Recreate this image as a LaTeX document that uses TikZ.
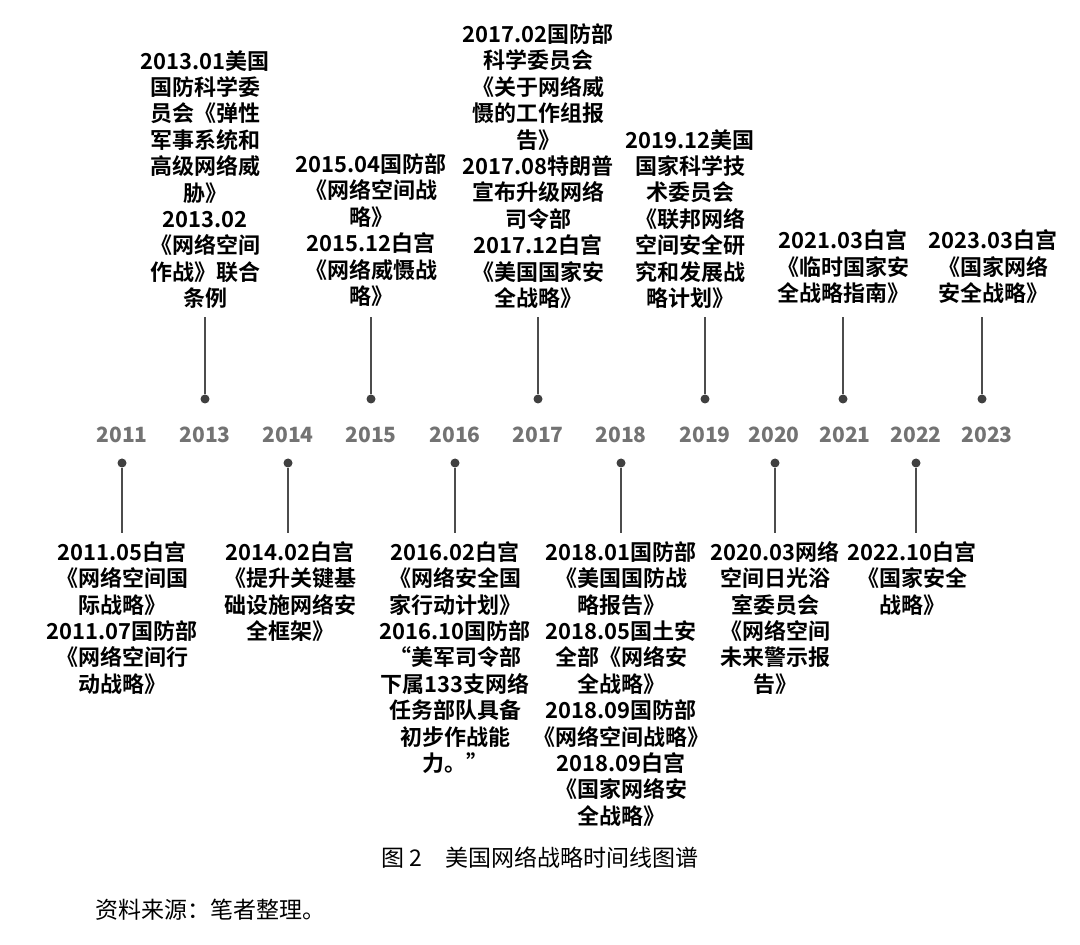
\documentclass[tikz,border=0pt]{standalone}
\usepackage{fontspec}
\setmainfont{Noto Sans CJK SC}
\newfontfamily\cjkb{Noto Sans CJK SC Bold}
\usepackage{tikz}
\usetikzlibrary{positioning}
\begin{document}
\begin{tikzpicture}[x=0.5pt,y=-0.5pt,
            ev/.style={align=center, inner sep=0pt, font=\cjkb\fontsize{11}{13.2}\selectfont},
            yr/.style={text=black!55, inner sep=0pt, font=\bfseries\fontsize{10.5}{12}\selectfont},
            dot/.style={shape=circle, inner sep=0pt, minimum size=4.5pt, fill=black!75},
            stem/.style={draw=black!70, line width=0.6pt}]
        \useasboundingbox (0,0) rectangle (1080,945);

        % years
        \foreach \x/\y in {122/2011,205/2013,288/2014,371/2015,455/2016,538/2017,621/2018,705/2019,774/2020,845/2021,916/2022,987/2023}
            \node[yr] (y\y) at (\x,435) {\y};

        % upper events
        \node[ev,anchor=south] (e13) at (205,309) {2013.01美国\\国防科学委\\员会《弹性\\军事系统和\\高级网络威\\胁》\\2013.02\\《网络空间\\作战》联合\\条例};
        \node[ev,anchor=south] (e15) at (371,307) {2015.04国防部\\《网络空间战\\略》\\2015.12白宫\\《网络威慑战\\略》};
        \node[ev,anchor=south] (e17) at (538,309) {2017.02国防部\\科学委员会\\《关于网络威\\慑的工作组报\\告》\\2017.08特朗普\\宣布升级网络\\司令部\\2017.12白宫\\《美国国家安\\全战略》};
        \node[ev,anchor=south] (e19) at (690,309) {2019.12美国\\国家科学技\\术委员会\\《联邦网络\\空间安全研\\究和发展战\\略计划》};
        \node[ev,anchor=south] (e21) at (843,304) {2021.03白宫\\《临时国家安\\全战略指南》};
        \node[ev,anchor=south] (e23) at (993,304) {2023.03白宫\\《国家网络\\安全战略》};

        % lower events
        \node[ev,anchor=north] (e11) at (122,541) {2011.05白宫\\《网络空间国\\际战略》\\2011.07国防部\\《网络空间行\\动战略》};
        \node[ev,anchor=north] (e14) at (290,541) {2014.02白宫\\《提升关键基\\础设施网络安\\全框架》};
        \node[ev,anchor=north] (e16) at (455,541) {2016.02白宫\\《网络安全国\\家行动计划》\\2016.10国防部\\“美军司令部\\下属133支网络\\任务部队具备\\初步作战能\\力。”};
        \node[ev,anchor=north] (e18) at (621,541) {2018.01国防部\\《美国国防战\\略报告》\\2018.05国土安\\全部《网络安\\全战略》\\2018.09国防部\\《网络空间战略》\\2018.09白宫\\《国家网络安\\全战略》};
        \node[ev,anchor=north] (e20) at (775,541) {2020.03网络\\空间日光浴\\室委员会\\《网络空间\\未来警示报\\告》};
        \node[ev,anchor=north] (e22) at (912,541) {2022.10白宫\\《国家安全\\战略》};

        % stems and dots
        \foreach \n/\x in {a/205,b/371,c/538,d/705,e/843,f/982} {
            \node[dot] (t\n) at (\x,399) {};
            \coordinate (u\n) at (\x,317);
            \draw[stem] (t\n) -- (u\n);
        }
        \foreach \n/\x in {a/122,b/288,c/455,d/621,e/775,f/916} {
            \node[dot] (b\n) at (\x,463) {};
            \coordinate (l\n) at (\x,533);
            \draw[stem] (b\n) -- (l\n);
        }

        \node[font=\fontsize{11.5}{13}\selectfont] (cap) at (540,858) {图 2\quad 美国网络战略时间线图谱};
        \node[anchor=west, inner sep=0pt, font=\fontsize{11.5}{13}\selectfont] (src) at (95,910) {资料来源：笔者整理。};
    \end{tikzpicture}
\end{document}
